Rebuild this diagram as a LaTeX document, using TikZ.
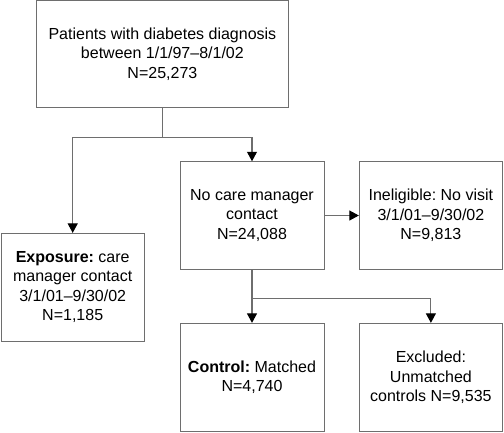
\documentclass[tikz,border=0pt]{standalone}
\usepackage{fontspec}
\setmainfont{Liberation Sans}
\frenchspacing
\usetikzlibrary{arrows.meta}
\definecolor{linegray}{RGB}{110,110,110}
\begin{document}
\begin{tikzpicture}[x=1pt,y=-1pt,
  box/.style={draw=linegray,line width=0.9pt,rectangle,align=center,inner sep=0pt,
    font=\fontsize{16}{19.5}\selectfont},
  conn/.style={draw=linegray,line width=1.1pt},
  arr/.style={conn,-{Triangle[length=9.5pt,width=10pt,color=black]}}]
\useasboundingbox (0,0) rectangle (504,432);
\node[box,minimum width=251.3pt,minimum height=107pt] (top) at (162.4,54.2)
  {Patients with diabetes diagnosis\\between 1/1/97--8/1/02\\N=25,273};
\node[box,minimum width=143.3pt,minimum height=107.7pt] (expo) at (72.7,287.2)
  {\textbf{Exposure:} care\\manager contact\\3/1/01--9/30/02\\N=1,185};
\node[box,minimum width=144pt,minimum height=107.6pt] (nocare) at (252,215.5)
  {No care manager\\contact\\N=24,088};
\node[box,minimum width=143.2pt,minimum height=107.6pt] (inelig) at (430.9,215.5)
  {Ineligible: No visit\\3/1/01--9/30/02\\N=9,813};
\node[box,minimum width=144pt,minimum height=108.2pt] (ctrl) at (252,377.4)
  {\textbf{Control:} Matched\\N=4,740};
\node[box,minimum width=143.2pt,minimum height=108.2pt] (excl) at (430.9,377.4)
  {Excluded:\\Unmatched\\controls N=9,535};
\draw[conn] (top.south) -- ++(0,29) coordinate (j1);
\draw[arr] (j1) -| (expo.north);
\draw[arr] (j1) -| (nocare.north);
\draw[arr] (nocare.east) -- (inelig.west);
\draw[conn] (nocare.south) -- ++(0,29) coordinate (j2);
\draw[arr] (j2) -| (ctrl.north);
\draw[arr] (j2) -| (excl.north);
\end{tikzpicture}
\end{document}
